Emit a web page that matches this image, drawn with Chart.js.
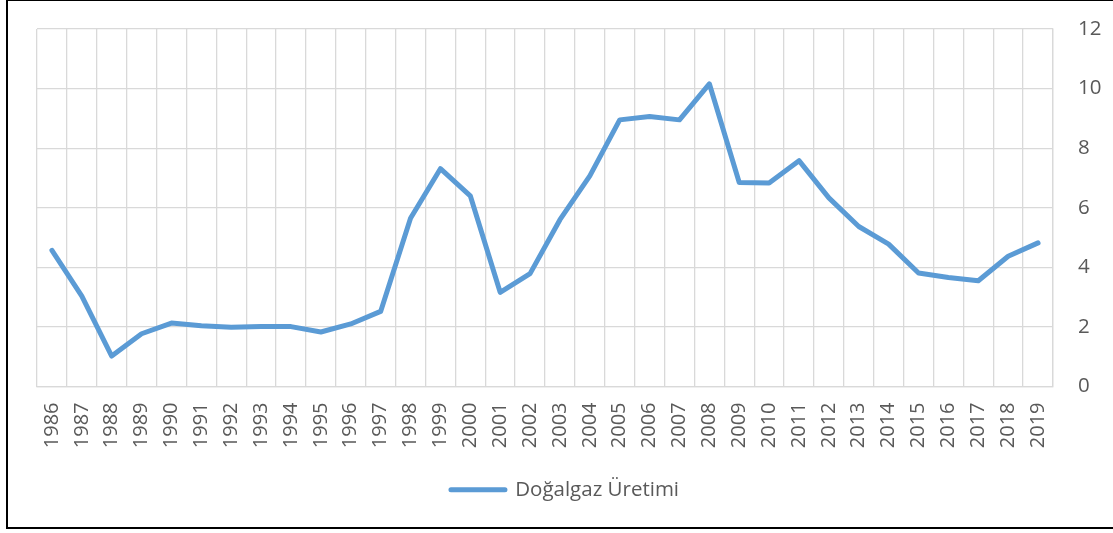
<!DOCTYPE html>
<html>
<head>
<meta charset="utf-8">
<script src="https://cdn.jsdelivr.net/npm/chart.js@4.4.1/dist/chart.umd.min.js"></script>
<style>
  html, body { margin: 0; padding: 0; background: #fff; overflow: hidden; }
  #wrap { position: relative; width: 1113px; height: 533px; }
  #frame { position: absolute; left: 6px; top: -1px; width: 1200px; height: 530px;
           box-sizing: border-box; border: 2px solid #000; pointer-events: none; }
</style>
</head>
<body>
<div id="wrap">
  <canvas id="chart" width="1113" height="533"></canvas>
  <div id="frame"></div>
</div>
<script>
var years = ["1986", "1987", "1988", "1989", "1990", "1991", "1992", "1993", "1994", "1995",
             "1996", "1997", "1998", "1999", "2000", "2001", "2002", "2003", "2004", "2005",
             "2006", "2007", "2008", "2009", "2010", "2011", "2012", "2013", "2014", "2015",
             "2016", "2017", "2018", "2019"];
var gasProduction = [4.57, 3.03, 1.02, 1.77, 2.13, 2.04, 1.99, 2.01, 2.01, 1.83,
                     2.10, 2.52, 5.65, 7.31, 6.40, 3.16, 3.79, 5.60, 7.07, 8.95,
                     9.06, 8.95, 10.16, 6.85, 6.83, 7.58, 6.33, 5.37, 4.78, 3.81,
                     3.66, 3.55, 4.37, 4.82];
var seriesName = "Doğalgaz Üretimi";

var textColor = "#595959";
var gridColor = "#d9d9d9";
var lineColor = "#5b9bd5";
var fontFamily = "'Open Sans', 'Noto Sans', sans-serif";

// legend sits a little left of the canvas centre in the original
var legendShift = {
  id: "legendShift",
  afterLayout: function(chart) {
    chart.legend.left -= 10;
    chart.legend.right -= 10;
  }
};

var chart = new Chart(document.getElementById("chart"), {
  type: "line",
  data: {
    labels: years,
    datasets: [{
      label: seriesName,
      data: gasProduction,
      borderColor: lineColor,
      backgroundColor: lineColor,
      borderWidth: 5,
      borderCapStyle: "round",
      borderJoinStyle: "round",
      pointRadius: 0,
      tension: 0,
      fill: false
    }]
  },
  options: {
    responsive: false,
    animation: false,
    layout: { padding: { left: 37, top: 29, right: 0, bottom: 23 } },
    plugins: {
      tooltip: { enabled: false },
      legend: {
        position: "bottom",
        labels: {
          color: textColor,
          font: { family: fontFamily, size: 20.5 },
          boxWidth: 54,
          boxHeight: 0,
          padding: 10
        }
      }
    },
    scales: {
      x: {
        offset: true,
        grid: { color: gridColor, lineWidth: 1.3, offset: true, drawTicks: false },
        border: { color: gridColor, width: 1.3 },
        ticks: {
          color: textColor,
          font: { family: fontFamily, size: 20 },
          minRotation: 90,
          maxRotation: 90,
          padding: 16,
          autoSkip: false
        },
        afterFit: function(scale) {
          scale.height = 83;
          scale.paddingTop = 0;
          scale.paddingBottom = 0;
        }
      },
      y: {
        position: "right",
        min: 0,
        max: 12,
        grid: { color: gridColor, lineWidth: 1.3, drawTicks: false },
        border: { color: gridColor, width: 1.3 },
        ticks: {
          stepSize: 2,
          color: textColor,
          font: { family: fontFamily, size: 20.5 },
          padding: 25
        },
        afterFit: function(scale) {
          scale.width = 60;
          scale.paddingTop = 0;
          scale.paddingBottom = 0;
        }
      }
    }
  },
  plugins: [legendShift]
});
</script>
</body>
</html>
